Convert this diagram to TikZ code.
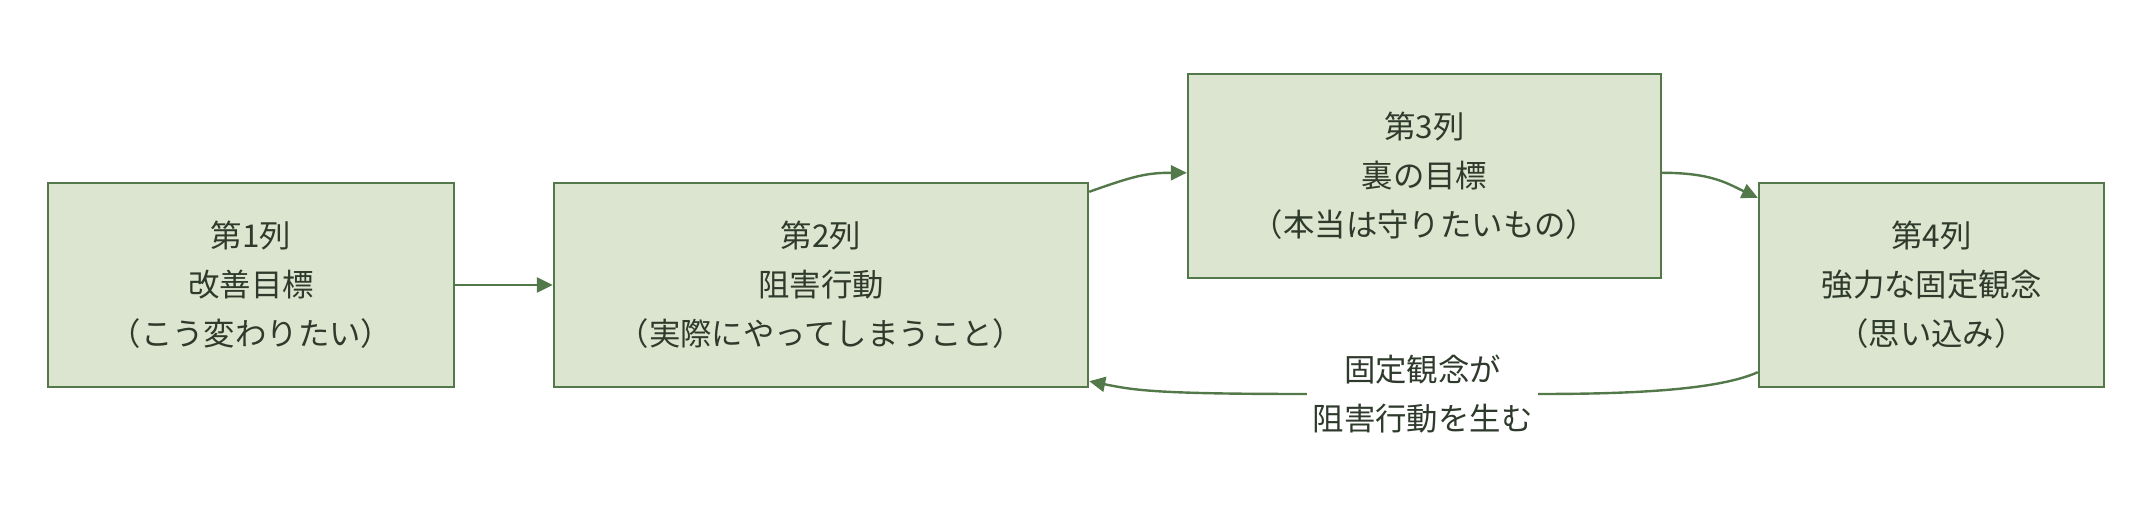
\documentclass[tikz,border=0pt]{standalone}
\usepackage{fontspec}
\newfontfamily\jpfont{Noto Sans CJK JP}
\usetikzlibrary{arrows.meta}
\definecolor{boxfill}{HTML}{DCE5CF}
\definecolor{boxline}{HTML}{53784A}
\definecolor{boxtext}{HTML}{2E3A2B}
\tikzset{
  colbox/.style={draw=boxline, fill=boxfill, line width=1.2pt, text=boxtext,
    align=center, inner sep=0pt, minimum height=102pt,
    font=\jpfont\fontsize{15.7}{24.5}\selectfont},
  link/.style={draw=boxline, line width=1.2pt,
    -{Triangle[length=8pt,width=7.5pt]}},
}
\begin{document}
\begin{tikzpicture}[x=0.5pt, y=-0.5pt]
			\useasboundingbox (0,0) rectangle (2152,522);
			\node[colbox, minimum width=203pt] (c1) at (251,285) {第1列\\改善目標\\（こう変わりたい）};
			\node[colbox, minimum width=267pt] (c2) at (821,285) {第2列\\阻害行動\\（実際にやってしまうこと）};
			\node[colbox, minimum width=236.5pt] (c3) at (1424.5,176) {第3列\\裏の目標\\（本当は守りたいもの）};
			\node[colbox, minimum width=172.5pt] (c4) at (1931.5,285) {第4列\\強力な固定観念\\（思い込み）};
			\draw[link] (c1.east) -- (c2.west);
			\draw[link] ([yshift=-5pt]c2.north east) .. controls +(45,-16) and +(-40,0) .. ([yshift=-50pt]c3.north west);
			\draw[link] ([yshift=-50pt]c3.north east) .. controls +(50,0) and +(-30,-14) .. ([yshift=-8pt]c4.north west);
			\draw[link] ([yshift=8pt]c4.south west) .. controls +(-40,18) and +(90,0) .. (1540,394)
				-- node[fill=white, text=boxtext, align=center, inner sep=3pt,
				        font=\jpfont\fontsize{15.7}{24.5}\selectfont] (lbl) {固定観念が\\阻害行動を生む}
				(1305,394) .. controls +(-150,0) and +(45,9) .. ([yshift=3.5pt]c2.south east);
		\end{tikzpicture}
\end{document}
